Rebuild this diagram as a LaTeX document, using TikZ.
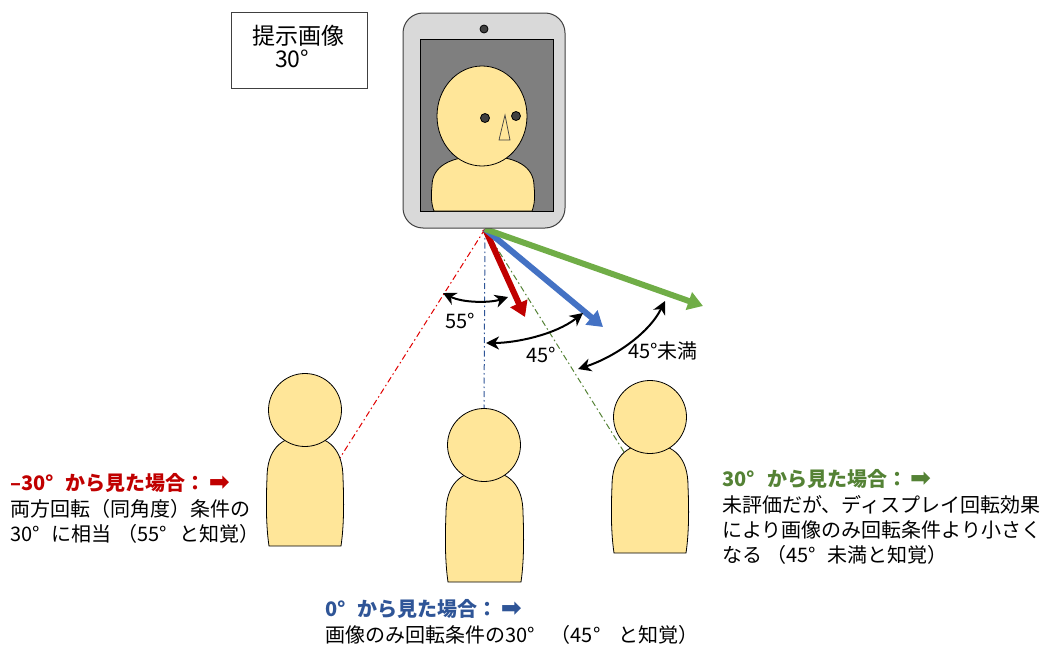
\documentclass[tikz,border=0pt]{standalone}
\usepackage{fontspec}
\setmainfont{Noto Sans CJK JP}
\newfontfamily\arrowfont{DejaVu Sans}
\usetikzlibrary{arrows.meta}

\definecolor{skin}{HTML}{FFE699}
\definecolor{rayred}{HTML}{C00000}
\definecolor{rayblue}{HTML}{4472C4}
\definecolor{raygreen}{HTML}{70AD47}
\definecolor{linered}{HTML}{E00000}
\definecolor{lineblue}{HTML}{2F5597}
\definecolor{linegreen}{HTML}{548235}
\definecolor{txtgreen}{HTML}{548235}
\definecolor{txtblue}{HTML}{2F5597}
\definecolor{bezel}{HTML}{D9D9D9}
\definecolor{screengray}{HTML}{7F7F7F}
\definecolor{edge}{HTML}{404040}

% body outline: centre x, top y, bottom y, half width, shoulder depth
\newcommand\figbody[5]{%
  \draw[skinfill] (#1-#4,#2+#5)
    .. controls (#1-#4,#2+0.35*#5) and (#1-0.65*#4,#2) .. (#1,#2)
    .. controls (#1+0.65*#4,#2) and (#1+#4,#2+0.35*#5) .. (#1+#4,#2+#5)
    .. controls (#1+#4+1,#2+#5+0.35*#3-0.35*#2-0.35*#5) and (#1+#4+1,#3-0.3*#3+0.3*#2+0.3*#5) .. (#1+#4-2,#3)
    -- (#1-#4+2,#3)
    .. controls (#1-#4-1,#3-0.3*#3+0.3*#2+0.3*#5) and (#1-#4-1,#2+#5+0.35*#3-0.35*#2-0.35*#5) .. cycle;}

\tikzset{
  skinfill/.style={fill=skin, draw=black, line width=0.8pt},
  ray/.style={line width=6pt, -{Triangle[length=15pt,width=18pt]}},
  sight/.style={line width=1pt, dash pattern=on 6pt off 3pt on 1.5pt off 3pt},
  angarrow/.style={line width=2pt, {Stealth[length=13pt,width=13pt,inset=4pt]}-{Stealth[length=13pt,width=13pt,inset=4pt]}},
  lbl/.style={font=\fontsize{20}{24}\selectfont, anchor=base west, inner sep=0pt},
  head/.style={lbl, font=\fontsize{20}{24}\selectfont\bfseries},
  anglbl/.style={font=\fontsize{20}{24}\selectfont, inner sep=0pt},
  captxt/.style={lbl, font=\fontsize{23}{27}\selectfont},
}

\newcommand\dg{°\hspace{0.6em}}
\newcommand\pointer{\hspace{0.15em}{\arrowfont\fontsize{25}{25}\selectfont ➡}}

\begin{document}
\begin{tikzpicture}[x=1pt,y=-1pt]
\useasboundingbox (0,0) rectangle (1050,645);

% ---- lines of sight from the viewers ----
\coordinate (o) at (485,229);
\coordinate (eyeL) at (338,461);
\coordinate (eyeC) at (484,410);
\coordinate (eyeR) at (629,460);
\draw[sight, linered] (o) -- (eyeL);
\draw[sight, lineblue] (o) -- (eyeC);
\draw[sight, linegreen] (o) -- (eyeR);

% ---- perceived gaze directions ----
\coordinate (tipR) at (525,317);
\coordinate (tipB) at (603,327);
\coordinate (tipG) at (703,306);
\draw[ray, rayred] (o) -- (tipR);
\draw[ray, rayblue] (o) -- (tipB);
\draw[ray, raygreen] (o) -- (tipG);

% ---- tablet ----
\draw[fill=bezel, draw=edge, line width=1pt, rounded corners=20pt] (403,13) rectangle (565,228);
\node[circle, fill=edge, draw=black, line width=0.8pt, minimum size=8pt, inner sep=0pt] (cam) at (484,29) {};
\draw[fill=screengray, draw=black, line width=1pt] (420,39) rectangle (553,211);
\figbody{483}{156}{211}{51}{30}
\draw[skinfill] (482,116) ellipse [x radius=45, y radius=50];
\node[circle, fill=edge, draw=black, line width=0.8pt, minimum size=9pt, inner sep=0pt] (eye1) at (485,118) {};
\node[circle, fill=edge, draw=black, line width=0.8pt, minimum size=9pt, inner sep=0pt] (eye2) at (516,116) {};
\draw[draw=edge, line width=0.7pt] (505,115) -- (499,140) -- (510,140) -- cycle;

% ---- caption box ----
\node[draw=edge, line width=1pt, minimum width=136pt, minimum height=76pt, inner sep=0pt] (capbox) at (299.5,50) {};
\node[captxt] (cap1) at (252,45) {提示画像};
\node[captxt] (cap2) at (275,67) {30°};

% ---- viewers ----
\figbody{305}{436}{546}{38}{42}
\node[circle, skinfill, minimum size=73pt, inner sep=0pt] (headL) at (305,410) {};
\figbody{484.5}{471}{582}{38.5}{42}
\node[circle, skinfill, minimum size=73pt, inner sep=0pt] (headC) at (484,445) {};
\figbody{650}{444}{553}{38}{42}
\node[circle, skinfill, minimum size=73pt, inner sep=0pt] (headR) at (650,417) {};

% ---- angle markers ----
\coordinate (a1) at (443,293);
\coordinate (a2) at (508,297);
\draw[angarrow] (a1) .. controls (463,303) and (490,303) .. (a2);
\node[anglbl] (l55) at (460,321) {55°};
\coordinate (b1) at (486,343);
\coordinate (b2) at (583,313);
\draw[angarrow] (b1) .. controls (515,343) and (555,335) .. (b2);
\node[anglbl] (l45) at (541,355) {45°};
\coordinate (c1) at (578,369);
\coordinate (c2) at (665,301);
\draw[angarrow] (c1) .. controls (612,358) and (648,335) .. (c2);
\node[anglbl] (l45u) at (663,351) {45°未満};

% ---- explanations ----
\node[head, text=rayred] (tL1) at (10,490) {–30\dg から見た場合：\pointer};
\node[lbl] (tL2) at (10,516) {両方回転（同角度）条件の};
\node[lbl] (tL3) at (10,541) {30\dg に相当\hspace{0.3em}（55\dg と知覚）};

\node[head, text=txtgreen] (tR1) at (722,486) {30\dg から見た場合：\pointer};
\node[lbl] (tR2) at (722,512) {未評価だが、ディスプレイ回転効果};
\node[lbl] (tR3) at (722,537) {により画像のみ回転条件より小さく};
\node[lbl] (tR4) at (722,562) {なる\hspace{0.2em}（45\dg 未満と知覚）};

\node[head, text=txtblue] (tC1) at (325,616) {0\dg から見た場合：\pointer};
\node[lbl] (tC2) at (325,642) {画像のみ回転条件の30\dg\hspace{0.2em}（45\dg\hspace{0.3em}と知覚）};
\end{tikzpicture}
\end{document}
